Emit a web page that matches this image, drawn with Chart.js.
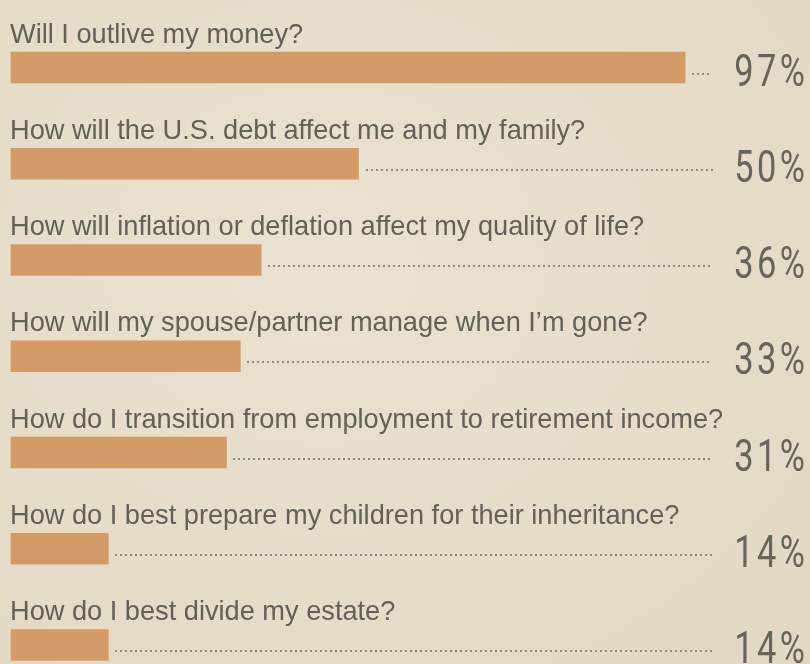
<!DOCTYPE html>
<html>
<head>
<meta charset="utf-8">
<script src="https://cdn.jsdelivr.net/npm/chart.js@4.4.1/dist/chart.umd.min.js"></script>
<style>
  html, body { margin: 0; padding: 0; background: #e7ddca; }
  #wrap { width: 810px; height: 664px; background: radial-gradient(ellipse at 40% 40%, #eae1d0 0%, #e6dcc8 60%, #e2d7c2 100%); }
  canvas { display: block; }
</style>
</head>
<body>
<div id="wrap"><canvas id="c" width="810" height="664"></canvas></div>
<script>
const categories = [
  "Will I outlive my money?",
  "How will the U.S. debt affect me and my family?",
  "How will inflation or deflation affect my quality of life?",
  "How will my spouse/partner manage when I\u2019m gone?",
  "How do I transition from employment to retirement income?",
  "How do I best prepare my children for their inheritance?",
  "How do I best divide my estate?"
];
const values = [97, 50, 36, 33, 31, 14, 14];
const valueLabels = ["97%", "50%", "36%", "33%", "31%", "14%", "14%"];

const annotate = {
  id: 'annotate',
  afterDatasetsDraw(chart) {
    const ctx = chart.ctx;
    const meta = chart.getDatasetMeta(0);
    const area = chart.chartArea;
    ctx.save();
    meta.data.forEach((bar, i) => {
      const yc = bar.y;
      // question label
      ctx.font = "27.2px 'Liberation Sans', Arial, sans-serif";
      ctx.fillStyle = "#61605a";
      ctx.textAlign = "left";
      ctx.textBaseline = "alphabetic";
      ctx.fillText(chart.data.labels[i], area.left - 1, yc - 25);
      // dotted leader
      ctx.fillStyle = "#8e8c85";
      const yd = Math.round(yc + 6);
      for (let x = bar.x + 7; x <= 711; x += 5) {
        ctx.fillRect(Math.round(x), yd - 1, 2, 2);
      }
      // value label, condensed & spaced
      const txt = valueLabels[i];
      const sx = 0.78, gap = 3.5;
      ctx.font = "400 44px Roboto, 'DejaVu Sans', sans-serif";
      ctx.fillStyle = "#66655d";
      const chars = txt.split('');
      const widths = chars.map(c => ctx.measureText(c).width * sx);
      const total = widths.reduce((a, b) => a + b, 0) + gap * (chars.length - 1);
      let x = 805 - total;
      chars.forEach((c, k) => {
        ctx.save();
        ctx.translate(x, yc + 18);
        ctx.scale(sx, 1);
        ctx.textAlign = "left";
        ctx.fillText(c, 0, 0);
        ctx.restore();
        x += widths[k] + gap;
      });
    });
    ctx.restore();
  }
};

new Chart(document.getElementById('c'), {
  type: 'bar',
  data: {
    labels: categories,
    datasets: [{
      data: values,
      backgroundColor: '#d39b67',
      borderWidth: 0,
      barThickness: 31,
      clip: false
    }]
  },
  options: {
    indexAxis: 'y',
    responsive: false,
    animation: false,
    layout: { padding: { left: 11, right: 104, top: 67.5, bottom: 19 } },
    scales: {
      x: { min: 0, max: 100, display: false },
      y: { display: false, offset: false }
    },
    plugins: { legend: { display: false }, tooltip: { enabled: false } }
  },
  plugins: [annotate]
});
</script>
</body>
</html>
